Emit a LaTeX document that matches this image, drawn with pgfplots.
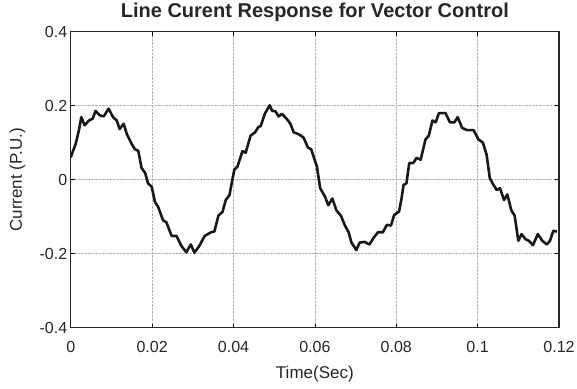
\documentclass[border=0pt]{standalone}
\usepackage{pgfplots}
\pgfplotsset{compat=1.18}
\usepackage{fontspec}
\setmainfont{Liberation Sans}
\begin{document}
\begin{tikzpicture}[x=1pt,y=1pt]
\begin{axis}[
  at={(0,0)}, anchor=south west,
  scale only axis, width=488pt, height=296pt,
  xmin=0, xmax=0.12, ymin=-0.4, ymax=0.4,
  xtick={0,0.02,...,0.12}, ytick={-0.4,-0.2,0,0.2,0.4},
  xticklabels={0,0.02,0.04,0.06,0.08,0.1,0.12},
  yticklabels={-0.4,-0.2,0,0.2,0.4},
  scaled x ticks=false,
  tick align=inside,
  major tick length=4pt,
  grid=major,
  grid style={densely dotted, gray!60, line width=0.6pt},
  axis line style={black!85, line width=1.1pt},
  tick style={black, line width=0.6pt},
  ticklabel style={font=\fontsize{16}{18}\selectfont, text=black!85},
  xticklabel style={yshift=-10pt},
  title={\textbf{Line Curent Response for Vector Control}},
  title style={font=\fontsize{20}{22}\selectfont, text=black!85, at={(axis description cs:0.5,1.027)}, anchor=base},
  xlabel={Time(Sec)},
  ylabel={Current (P.U.)},
  label style={font=\fontsize{17}{19}\selectfont, text=black!85},
  xlabel style={at={(axis description cs:0.5,-0.172)}, anchor=base},
  ylabel style={at={(axis description cs:-0.109,0.5)}, anchor=center},
]
\addplot[black!90, line width=2.6pt, line join=round] coordinates {
(0,0.06) (0.0004,0.073) (0.0012,0.096) (0.002,0.133) (0.0026,0.169) (0.0034,0.147)
(0.0045,0.160) (0.0054,0.165) (0.0061,0.186) (0.0071,0.174) (0.0081,0.171)
(0.0093,0.192) (0.0104,0.169) (0.0113,0.160) (0.012,0.137) (0.013,0.151)
(0.0138,0.123) (0.015,0.096) (0.0158,0.082) (0.0166,0.078) (0.0174,0.032)
(0.0183,0.018) (0.019,-0.010) (0.0199,-0.019) (0.0207,-0.060) (0.0215,-0.074)
(0.0227,-0.110) (0.0235,-0.115) (0.0248,-0.152) (0.026,-0.152) (0.0272,-0.179)
(0.0284,-0.196) (0.0295,-0.175) (0.0304,-0.197) (0.0316,-0.179) (0.0329,-0.152)
(0.0345,-0.142) (0.0353,-0.140) (0.0363,-0.097) (0.0373,-0.087) (0.0381,-0.055)
(0.039,-0.042) (0.0402,0.027) (0.041,0.036) (0.0422,0.077) (0.043,0.073)
(0.0442,0.119) (0.0453,0.128) (0.0461,0.142) (0.0467,0.145) (0.0477,0.178)
(0.0489,0.201) (0.0495,0.186) (0.0503,0.185) (0.0511,0.171) (0.0519,0.178)
(0.0531,0.164) (0.054,0.151) (0.0548,0.128) (0.056,0.123) (0.0572,0.114)
(0.0583,0.087) (0.0591,0.082) (0.0605,0.036) (0.0613,-0.023) (0.0625,-0.046)
(0.0633,-0.069) (0.0643,-0.051) (0.0653,-0.083) (0.0664,-0.097) (0.0674,-0.124)
(0.0683,-0.142) (0.069,-0.170) (0.0702,-0.190) (0.071,-0.170) (0.0722,-0.168)
(0.0734,-0.175) (0.0745,-0.156) (0.0755,-0.142) (0.0767,-0.142) (0.0777,-0.122)
(0.0787,-0.124) (0.0795,-0.095) (0.0807,-0.086) (0.0813,-0.051) (0.0818,-0.014)
(0.0825,-0.010) (0.0832,0.045) (0.0842,0.045) (0.085,0.059) (0.086,0.054)
(0.0872,0.109) (0.088,0.119) (0.0889,0.160) (0.0897,0.155) (0.0905,0.180)
(0.0921,0.180) (0.0932,0.155) (0.0943,0.155) (0.0951,0.169) (0.0962,0.140)
(0.0974,0.134) (0.099,0.134) (0.1002,0.109) (0.1013,0.100) (0.1022,0.068)
(0.103,0.004) (0.1039,-0.014) (0.1047,-0.028) (0.1055,-0.023) (0.1065,-0.055)
(0.1073,-0.040) (0.1083,-0.083) (0.1091,-0.097) (0.11,-0.165) (0.1108,-0.147)
(0.1118,-0.161) (0.1126,-0.165) (0.1136,-0.177) (0.1148,-0.147) (0.1159,-0.165)
(0.117,-0.175) (0.1178,-0.165) (0.1186,-0.138) (0.1195,-0.140)
};
\end{axis}
\pgfresetboundingbox
\path[use as bounding box] (-70.7pt,-61pt) rectangle (506pt,327.6pt);
\end{tikzpicture}
\end{document}
